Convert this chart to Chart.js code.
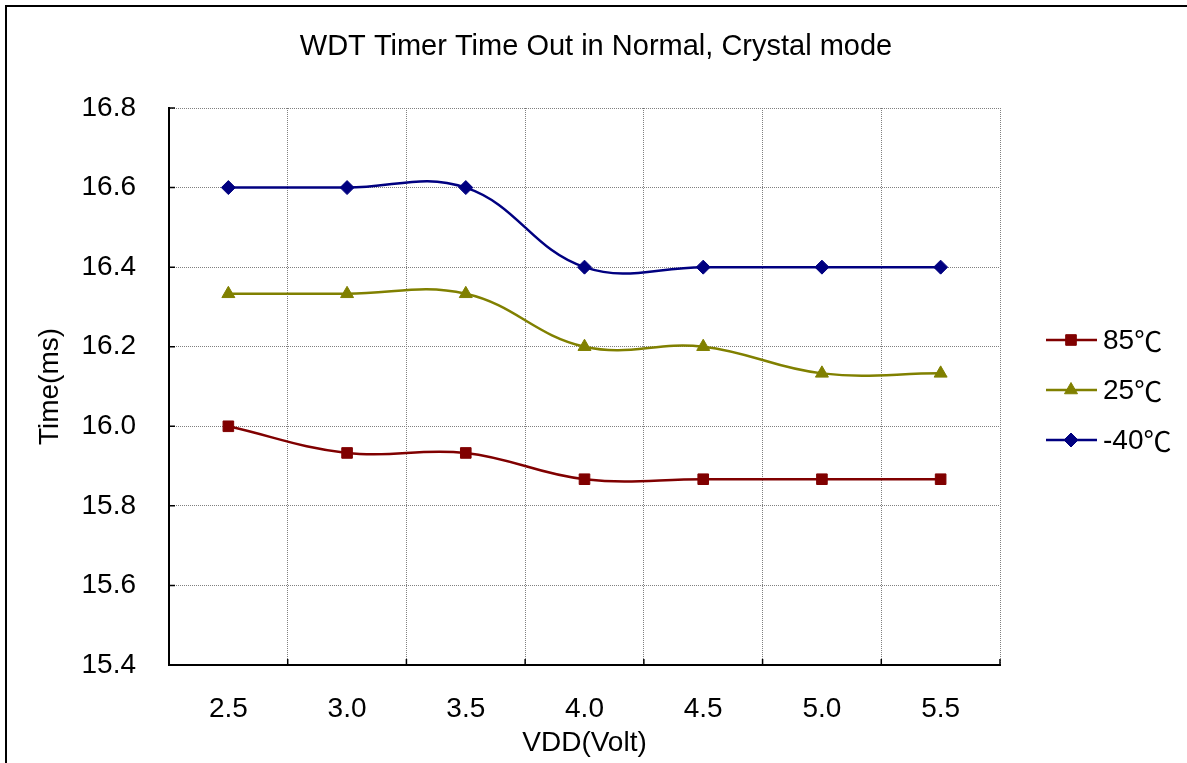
<!DOCTYPE html>
<html>
<head>
<meta charset="utf-8">
<title>WDT Timer Time Out in Normal, Crystal mode</title>
<script src="https://cdn.jsdelivr.net/npm/chart.js@4.4.0/dist/chart.umd.min.js"></script>
<style>
  html, body { margin: 0; padding: 0; background: #fff; }
  #wrap { position: relative; width: 1187px; height: 763px; }
</style>
</head>
<body>
<div id="wrap"><canvas id="wdtChart"></canvas></div>
<script>
/* -----------------------
   Data
   ----------------------- */
const vddLabels = ['2.5', '3.0', '3.5', '4.0', '4.5', '5.0', '5.5'];
const time85  = [16.0, 15.933, 15.933, 15.867, 15.867, 15.867, 15.867];
const time25  = [16.333, 16.333, 16.333, 16.2, 16.2, 16.133, 16.133];
const timeM40 = [16.6, 16.6, 16.6, 16.4, 16.4, 16.4, 16.4];
const seriesNames = ['85\u2103', '25\u2103', '-40\u2103'];
const chartTitle = 'WDT Timer Time Out in Normal, Crystal mode';
const yMin = 15.4, yMax = 16.8, yStep = 0.2;

const FONT = "'Liberation Sans', Arial, sans-serif";
const CJK = "'Noto Sans CJK SC', sans-serif";
Chart.defaults.color = '#000';
Chart.defaults.font.family = FONT;

const GRID = '#808080';

/* -----------------------
   Plugins: outer frame, title, inner tick marks, legend
   ----------------------- */
const framePlugin = {
  id: 'frame',
  afterDraw(chart){
    const c = chart.ctx;
    c.save();
    c.strokeStyle = '#000';
    c.lineWidth = 2;
    c.beginPath();
    c.moveTo(6, chart.height + 2);
    c.lineTo(6, 6);
    c.lineTo(chart.width + 2, 6);
    c.stroke();
    // title, centred on the whole frame like the original
    c.fillStyle = '#000';
    c.font = '29px ' + FONT;
    c.textAlign = 'center';
    c.textBaseline = 'middle';
    c.fillText(chartTitle, 596, 47);
    c.restore();
  }
};

const innerTicks = {
  id: 'innerTicks',
  afterDatasetsDraw(chart){
    const {ctx: c, chartArea: a, scales: {x, y}} = chart;
    c.save();
    c.strokeStyle = '#000';
    c.lineWidth = 1.5;
    c.beginPath();
    y.ticks.forEach(t => {
      const py = y.getPixelForValue(t.value);
      c.moveTo(a.left, py);
      c.lineTo(a.left + 6, py);
    });
    for(let i = 1; i < vddLabels.length; i++){
      const px = (x.getPixelForTick(i - 1) + x.getPixelForTick(i)) / 2;
      c.moveTo(px, a.bottom);
      c.lineTo(px, a.bottom - 6);
    }
    c.moveTo(a.right, a.bottom);
    c.lineTo(a.right, a.bottom - 6);
    c.stroke();
    c.restore();
  }
};

const sideLegend = {
  id: 'sideLegend',
  afterDraw(chart){
    const c = chart.ctx;
    const rows = [340, 390, 440];
    c.save();
    chart.data.datasets.forEach((ds, i) => {
      const yy = rows[i];
      c.strokeStyle = ds.borderColor;
      c.lineWidth = ds.borderWidth;
      c.beginPath();
      c.moveTo(1046, yy);
      c.lineTo(1097, yy);
      c.stroke();
      c.fillStyle = ds.pointBackgroundColor;
      c.strokeStyle = ds.borderColor;
      c.lineWidth = 1;
      Chart.helpers.drawPoint(c, {
        pointStyle: ds.pointStyle, radius: ds.pointRadius, rotation: 0, borderWidth: 1
      }, 1071, yy);
      // number part in Arial-like face, degree sign in the CJK face (full width)
      const num = ds.label.replace('\u2103', '');
      c.fillStyle = '#000';
      c.textBaseline = 'middle';
      c.textAlign = 'left';
      c.font = '28px ' + FONT;
      c.fillText(num, 1103, yy + 1);
      const w = c.measureText(num).width;
      c.font = '28px ' + CJK;
      c.fillText('\u2103', 1103 + w, yy + 1);
    });
    c.restore();
  }
};

/* -----------------------
   Chart
   ----------------------- */
function lineSet(label, data, color, style, r){
  return {
    label: label,
    data: data,
    borderColor: color,
    backgroundColor: color,
    pointBackgroundColor: color,
    pointBorderColor: color,
    pointStyle: style,
    pointRadius: r,
    pointBorderWidth: 1,
    borderWidth: 2.5,
    tension: 0.4,
    fill: false
  };
}

new Chart(document.getElementById('wdtChart'), {
  type: 'line',
  data: {
    labels: vddLabels,
    datasets: [
      lineSet(seriesNames[0], time85, '#800000', 'rect', 7.5),
      lineSet(seriesNames[1], time25, '#808000', 'triangle', 7.5),
      lineSet(seriesNames[2], timeM40, '#000080', 'rectRot', 7)
    ]
  },
  options: {
    responsive: true,
    maintainAspectRatio: false,
    animation: false,
    devicePixelRatio: 1,
    layout: { padding: { left: 0, right: 187, top: 108, bottom: 0 } },
    plugins: {
      legend: { display: false },
      tooltip: { enabled: false },
      title: { display: false }
    },
    scales: {
      x: {
        offset: true,
        grid: { offset: true, color: GRID, lineWidth: 1, drawTicks: false },
        border: { display: true, color: '#000', width: 2, dash: [1, 1] },
        ticks: { font: { size: 28 }, padding: 27, maxRotation: 0 },
        title: { display: true, text: 'VDD(Volt)', font: { size: 28 }, padding: { top: 0, bottom: 3 } },
        afterFit(s){ s.height = 98; }
      },
      y: {
        min: yMin,
        max: yMax,
        grid: { color: GRID, lineWidth: 1, drawTicks: false },
        border: { display: true, color: '#000', width: 2, dash: [1, 1] },
        ticks: {
          stepSize: yStep,
          font: { size: 28 },
          padding: 33,
          callback: v => Number(v).toFixed(1)
        },
        title: { display: true, text: 'Time(ms)', font: { size: 28 }, padding: { top: 33, bottom: 0 } },
        afterFit(s){ s.width = 169; }
      }
    }
  },
  plugins: [framePlugin, innerTicks, sideLegend]
});
</script>
</body>
</html>
